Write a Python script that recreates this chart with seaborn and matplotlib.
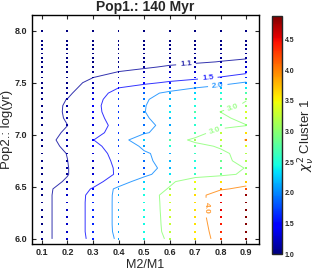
import numpy as np
import pandas as pd
import matplotlib
matplotlib.use("Agg")
import matplotlib.pyplot as plt
import seaborn as sns

# ---------------- data ----------------
m_ratio = [0.1, 0.2, 0.3, 0.4, 0.5, 0.6, 0.7, 0.8, 0.9]
log_age = [6.00, 6.07, 6.14, 6.21, 6.28, 6.35, 6.42, 6.48, 6.55, 6.62, 6.68,
           6.75, 6.82, 6.89, 6.95, 7.02, 7.09, 7.16, 7.22, 7.28, 7.34, 7.40,
           7.45, 7.50, 7.55, 7.60, 7.65, 7.70, 7.74, 7.78, 7.82, 7.86, 7.90, 8.00]
# reduced chi2 of cluster 1, one row per log_age, one column per m_ratio
chi2_rows = [
    [1.00, 1.25, 1.59, 2.08, 2.45, 3.14, 3.55, 4.28, 4.85],
    [1.00, 1.25, 1.61, 2.12, 2.45, 3.25, 3.58, 4.35, 4.85],
    [1.00, 1.25, 1.61, 2.13, 2.45, 3.28, 3.60, 4.42, 4.85],
    [1.00, 1.25, 1.61, 2.13, 2.45, 3.30, 3.62, 4.50, 4.85],
    [1.00, 1.25, 1.61, 2.13, 2.46, 3.32, 3.62, 4.52, 4.85],
    [1.00, 1.25, 1.61, 2.13, 2.47, 3.33, 3.62, 4.52, 4.85],
    [1.00, 1.25, 1.60, 2.13, 2.48, 3.35, 3.63, 4.50, 4.80],
    [1.00, 1.23, 1.53, 2.12, 2.40, 3.07, 3.30, 3.90, 4.20],
    [1.00, 1.125, 1.35, 1.725, 2.275, 2.85, 3.50, 3.60, 3.70],
    [1.00, 1.09, 1.29, 1.55, 1.85, 2.35, 2.60, 2.85, 3.10],
    [1.00, 1.095, 1.195, 1.58, 1.80, 2.18, 2.45, 2.80, 3.02],
    [1.00, 1.098, 1.25, 1.61, 1.90, 2.19, 2.50, 2.85, 3.18],
    [1.00, 1.105, 1.30, 1.65, 1.95, 2.15, 2.60, 2.90, 3.19],
    [1.00, 1.143, 1.40, 1.686, 2.08, 2.50, 2.85, 3.06, 3.40],
    [1.00, 1.18, 1.49, 1.80, 2.30, 2.75, 3.11, 3.30, 4.05],
    [1.00, 1.133, 1.35, 1.683, 1.95, 2.20, 2.75, 3.25, 3.60],
    [1.00, 1.098, 1.30, 1.633, 1.90, 2.12, 2.55, 2.80, 2.98],
    [1.00, 1.118, 1.35, 1.683, 1.95, 2.20, 2.50, 2.85, 3.23],
    [1.00, 1.125, 1.40, 1.686, 1.98, 2.38, 2.70, 3.01, 3.40],
    [1.00, 1.122, 1.42, 1.67, 1.98, 2.23, 2.50, 2.85, 3.06],
    [1.00, 1.105, 1.35, 1.725, 1.95, 2.20, 2.40, 2.65, 2.98],
    [1.00, 1.05, 1.30, 1.633, 1.85, 2.10, 2.30, 2.50, 2.70],
    [1.00, 1.04, 1.19, 1.50, 1.65, 1.80, 2.00, 2.20, 2.40],
    [1.00, 1.03, 1.147, 1.30, 1.43, 1.547, 1.65, 1.80, 2.05],
    [1.00, 1.02, 1.098, 1.20, 1.28, 1.35, 1.42, 1.52, 1.65],
    [1.00, 1.01, 1.05, 1.106, 1.15, 1.20, 1.26, 1.33, 1.45],
    [1.00, 1.00, 1.03, 1.06, 1.08, 1.12, 1.15, 1.20, 1.30],
    [1.00, 1.00, 1.01, 1.03, 1.05, 1.06, 1.08, 1.105, 1.15],
    [1.00, 1.00, 1.00, 1.02, 1.03, 1.04, 1.05, 1.07, 1.08],
    [1.00, 1.00, 1.00, 1.01, 1.02, 1.03, 1.04, 1.05, 1.06],
    [1.00, 1.00, 1.00, 1.01, 1.01, 1.02, 1.03, 1.04, 1.05],
    [1.00, 1.00, 1.00, 1.00, 1.01, 1.01, 1.02, 1.03, 1.04],
    [1.00, 1.00, 1.00, 1.00, 1.00, 1.01, 1.01, 1.02, 1.03],
    [1.00, 1.00, 1.00, 1.00, 1.00, 1.00, 1.01, 1.01, 1.02],
]
contour_levels = [1.1, 1.5, 2.0, 3.0, 4.0]
cbar_ticks = [1.0, 1.5, 2.0, 2.5, 3.0, 3.5, 4.0, 4.5]
x_ticks = [0.1, 0.2, 0.3, 0.4, 0.5, 0.6, 0.7, 0.8, 0.9]
y_ticks = [6.0, 6.5, 7.0, 7.5, 8.0]
title = "Pop1.: 140 Myr"
x_label = "M2/M1"
y_label = "Pop2.: log(yr)"
cbar_label = r"$\chi^2_\nu$ Cluster 1"
chi2_min, chi2_max = 1.0, 4.88

# ---------------- plot ----------------
sns.set_theme(style="white")
plt.rcParams["font.family"] = ["Liberation Sans", "DejaVu Sans"]
plt.rcParams["mathtext.fontset"] = "dejavusans"

Z = np.array(chi2_rows)
MM, AA = np.meshgrid(m_ratio, log_age)
df = pd.DataFrame({"m": MM.ravel(), "age": AA.ravel(), "chi2": Z.ravel()})
norm = matplotlib.colors.Normalize(vmin=chi2_min, vmax=chi2_max)
cmap = plt.get_cmap("jet")

fig = plt.figure(figsize=(3.16, 2.78), dpi=100)
ax = fig.add_axes([0.100, 0.122, 0.720, 0.824])
cax = fig.add_axes([0.862, 0.086, 0.030, 0.856])

sns.scatterplot(data=df, x="m", y="age", hue="chi2", palette=cmap,
                hue_norm=norm, s=1.8, marker="s", linewidth=0, legend=False, ax=ax)

cs = ax.contour(m_ratio, log_age, Z, levels=contour_levels, cmap=cmap,
                norm=norm, linewidths=0.7, alpha=0.8)
texts = ax.clabel(cs, fmt="%.1f", fontsize=6, inline=True,
                  manual=[(0.664, 7.67), (0.749, 7.55), (0.788, 7.48),
                          (0.846, 7.29), (0.78, 7.03), (0.742, 6.3)])
for t in texts:
    t.set_fontweight("bold")

ax.set_xlim(0.06, 0.95)
ax.set_ylim(5.95, 8.15)
ax.set_xticks(x_ticks)
ax.set_yticks(y_ticks)
ax.set_xticklabels([f"{v:.1f}" for v in x_ticks], fontsize=6.5, fontweight="bold")
ax.set_yticklabels([f"{v:.1f}" for v in y_ticks], fontsize=6.5, fontweight="bold")
ax.tick_params(direction="in", length=3, width=0.8, top=True, right=True,
               bottom=True, left=True, pad=3)
for sp in ax.spines.values():
    sp.set_color("black")
    sp.set_linewidth(1.0)
ax.set_title(title, fontsize=10, fontweight="bold", pad=3)
ax.set_xlabel(x_label, fontsize=9, labelpad=1)
ax.set_ylabel(y_label, fontsize=9.5, labelpad=1)

sm = matplotlib.cm.ScalarMappable(norm=norm, cmap=cmap)
cb = fig.colorbar(sm, cax=cax, ticks=cbar_ticks)
cb.ax.set_yticklabels([f"{v:.1f}" for v in cbar_ticks], fontsize=5, fontweight="bold")
cb.ax.tick_params(direction="in", length=2, width=0.6, pad=2)
cb.outline.set_linewidth(1.0)
cb.set_label(cbar_label, fontsize=9.5, labelpad=2)

fig.savefig("out.png", dpi=100)
